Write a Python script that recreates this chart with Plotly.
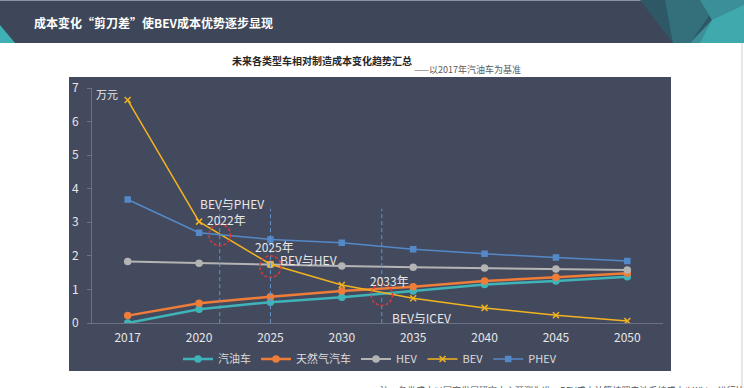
import plotly.graph_objects as go

years = ["2017", "2020", "2025", "2030", "2035", "2040", "2045", "2050"]
gasoline = [0.0, 0.41, 0.62, 0.77, 0.95, 1.15, 1.25, 1.38]
natural_gas = [0.22, 0.59, 0.78, 0.95, 1.08, 1.25, 1.36, 1.48]
hev = [1.83, 1.78, 1.74, 1.70, 1.66, 1.64, 1.61, 1.58]
bev = [6.64, 3.02, 1.75, 1.13, 0.74, 0.45, 0.23, 0.06]
phev = [3.68, 2.69, 2.49, 2.39, 2.20, 2.06, 1.95, 1.85]

series_names = ["汽油车", "天然气汽车", "HEV", "BEV", "PHEV"]
series_values = [gasoline, natural_gas, hev, bev, phev]

# crossing points (index position on the category axis, value)
cross_x = [1.29, 2.0, 3.56]
cross_y = [2.62, 1.68, 0.84]
cross_year = ["2022年", "2025年", "2033年"]

FONT = "Noto Sans CJK SC"
W, H = 744, 388
L, R, T, B = 92, 663, 88, 323


def px(x):
    return (x - L) / (R - L)


def py(y):
    return (B - y) / (B - T)


colors = ["#3fb4b8", "#ef7d3a", "#b4b4b4", "#f2b31f", "#5489c8"]
symbols = ["circle", "circle", "circle", "x-thin", "square"]
widths = [2.5, 2.5, 2, 1.5, 1.5]
msizes = [6, 6, 6, 6, 5]

xs = list(range(len(years)))
fig = go.Figure()
for name, vals, c, s, w, ms in zip(series_names, series_values, colors, symbols, widths, msizes):
    fig.add_trace(go.Scatter(
        x=xs, y=vals, name=name, mode="lines+markers",
        line=dict(color=c, width=w),
        marker=dict(symbol=s, size=ms, color=c, line=dict(color=c, width=1.5)),
    ))

shapes = []
# page decorations
shapes.append(dict(type="rect", xref="paper", yref="paper", x0=px(0), x1=px(W), y0=py(0), y1=py(43),
                   fillcolor="#3e4759", line_width=0, layer="below"))
shapes.append(dict(type="line", xref="paper", yref="paper", layer="below",
                   x0=px(0), x1=px(W), y0=py(0.5), y1=py(0.5), line=dict(color="#8a93a3", width=1)))
shapes.append(dict(type="path", xref="paper", yref="paper", layer="below", line_width=0,
                   fillcolor="#2f5866",
                   path=f"M {px(640)} {py(0)} L {px(W)} {py(0)} L {px(W)} {py(43)} L {px(673)} {py(43)} Z"))
shapes.append(dict(type="path", xref="paper", yref="paper", layer="below", line_width=0,
                   fillcolor="#33707c",
                   path=f"M {px(665)} {py(0)} L {px(720)} {py(0)} L {px(690)} {py(43)} L {px(673)} {py(43)} Z"))
shapes.append(dict(type="path", xref="paper", yref="paper", layer="below", line_width=0,
                   fillcolor="#3a8f98",
                   path=f"M {px(700)} {py(0)} L {px(W)} {py(0)} L {px(W)} {py(43)} L {px(690)} {py(43)} L {px(712)} {py(20)} Z"))
shapes.append(dict(type="path", xref="paper", yref="paper", layer="below", line_width=0,
                   fillcolor="#40a9ae",
                   path=f"M {px(712)} {py(20)} L {px(W)} {py(5)} L {px(W)} {py(43)} L {px(700)} {py(43)} Z"))
shapes.append(dict(type="path", xref="paper", yref="paper", layer="below", line_width=0,
                   fillcolor="#3fb0b3",
                   path=f"M {px(0)} {py(25)} L {px(15)} {py(43)} L {px(0)} {py(43)} Z"))
shapes.append(dict(type="line", xref="paper", yref="paper", layer="below",
                   x0=px(742), x1=px(742), y0=py(43), y1=py(H), line=dict(color="#d0d0d0", width=1)))
# chart panel
shapes.append(dict(type="rect", xref="paper", yref="paper", x0=px(69), x1=px(671), y0=py(77), y1=py(371),
                   fillcolor="#444a5e", line_width=0, layer="below"))
# vertical dashed lines and dashed circles at crossings
for cx, cy in zip(cross_x, cross_y):
    shapes.append(dict(type="line", xref="x", yref="y", x0=cx, x1=cx, y0=-0.42, y1=3.4,
                       line=dict(color="#5f93cc", width=1, dash="4px,3px"), layer="above"))
    shapes.append(dict(type="circle", xref="x", yref="y",
                       x0=cx - 0.15, x1=cx + 0.15, y0=cy - 0.32, y1=cy + 0.32,
                       line=dict(color="#d93a3e", width=1.5, dash="3px,2px"), layer="above"))

ann_color = "#e8e8e8"
annotations = [
    dict(text="成本变化“剪刀差”使BEV成本优势逐步显现", x=px(32), y=py(23), xanchor="left", yanchor="middle",
         font=dict(family=FONT, size=12, color="white", weight="bold")),
    dict(text="未来各类型车相对制造成本变化趋势汇总", x=px(322), y=py(61), xanchor="center", yanchor="middle",
         font=dict(family=FONT, size=10, color="#262626", weight="bold")),
    dict(text="——以2017年汽油车为基准", x=px(467), y=py(70), xanchor="center", yanchor="middle",
         font=dict(family=FONT, size=9, color="#595959")),
    dict(text="万元", x=px(107), y=py(94), xanchor="center", yanchor="middle",
         font=dict(family=FONT, size=11, color=ann_color)),
    dict(text="BEV与PHEV", x=px(232), y=py(203), xanchor="center", yanchor="middle",
         font=dict(family=FONT, size=12, color=ann_color)),
    dict(text=cross_year[0], x=px(226), y=py(220), xanchor="center", yanchor="middle",
         font=dict(family=FONT, size=12, color=ann_color)),
    dict(text=cross_year[1], x=px(274), y=py(246), xanchor="center", yanchor="middle",
         font=dict(family=FONT, size=12, color=ann_color)),
    dict(text="BEV与HEV", x=px(308), y=py(259), xanchor="center", yanchor="middle",
         font=dict(family=FONT, size=12, color=ann_color)),
    dict(text=cross_year[2], x=px(389), y=py(280), xanchor="center", yanchor="middle",
         font=dict(family=FONT, size=12, color=ann_color)),
    dict(text="BEV与ICEV", x=px(421), y=py(317), xanchor="center", yanchor="middle",
         font=dict(family=FONT, size=12, color=ann_color)),
    dict(text="注：各类成本以国家发展研究中心预测为准，BEV成本计算按照电池系统成本(kWh)，进行比较",
         x=px(378), y=py(382), xanchor="left", yanchor="top",
         font=dict(family=FONT, size=9, color="#555555")),
]
for a in annotations:
    a.update(xref="paper", yref="paper", showarrow=False)

fig.update_layout(
    width=W, height=H,
    margin=dict(l=L, r=W - R, t=T, b=H - B, autoexpand=False),
    paper_bgcolor="white",
    plot_bgcolor="rgba(0,0,0,0)",
    font=dict(family=FONT, color=ann_color),
    showlegend=True,
    legend=dict(orientation="h", x=px(370), y=py(359), xanchor="center", yanchor="middle",
                font=dict(family=FONT, size=11, color="#dcdcdc"), bgcolor="rgba(0,0,0,0)",
                itemwidth=30, tracegroupgap=0),
    shapes=shapes,
    annotations=annotations,
    xaxis=dict(range=[-0.5, 7.5], tickvals=xs, ticktext=years, showgrid=False, zeroline=False,
               showline=True, linecolor="#6c7184", linewidth=1, ticks="",
               tickfont=dict(family=FONT, size=12, color="#e6e6e6"), ticklabelstandoff=4),
    yaxis=dict(range=[0, 7], dtick=1, showgrid=False, zeroline=False,
               showline=True, linecolor="#6c7184", linewidth=1, ticks="outside", ticklen=4,
               tickcolor="#6c7184",
               tickfont=dict(family=FONT, size=12, color="#e6e6e6"), ticklabelstandoff=6),
)

fig.write_html("out.html", config={"displayModeBar": False},
               post_script="document.body.style.margin='0';document.body.style.overflow='hidden';")
